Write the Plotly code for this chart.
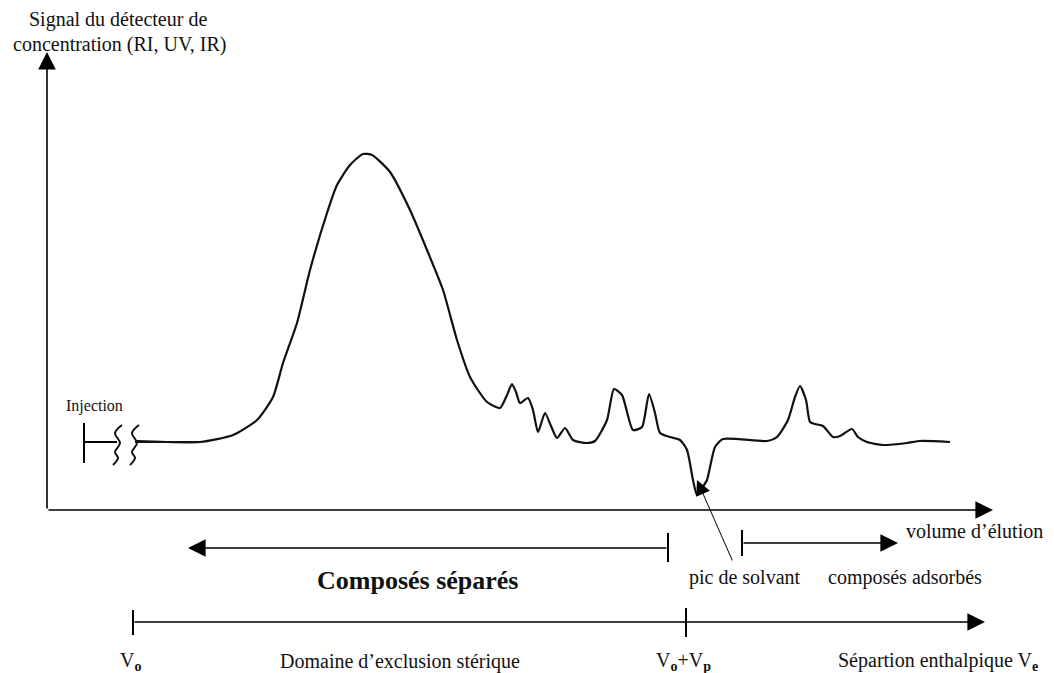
import plotly.graph_objects as go

# chromatogram trace (x = elution position, y = detector signal, screen units)
curve_x = [137, 200, 233, 257, 273, 283, 297, 310, 327, 337, 350, 363, 372, 390, 410,
           427, 443, 457, 470, 487, 500, 507, 512, 516, 520, 528, 533, 538, 545, 551,
           557, 565, 573, 587, 595, 607, 614, 622, 633, 642, 649, 655, 660, 670, 680,
           687, 693, 697, 702, 707, 715, 723, 767, 777, 788, 795, 800, 806, 810, 815,
           823, 833, 840, 852, 858, 867, 883, 907, 920, 950]
curve_y = [441, 442, 435, 420, 397, 363, 323, 270, 213, 185, 165, 154, 155, 172, 210,
           250, 290, 340, 377, 402, 408, 395, 384, 392, 403, 398, 410, 432, 413, 426,
           438, 428, 440, 443, 441, 420, 389, 395, 430, 427, 394, 413, 433, 437, 440,
           450, 480, 495, 488, 480, 447, 439, 441, 437, 420, 397, 386, 400, 422, 424,
           426, 437, 436, 429, 437, 442, 445, 443, 441, 442]

# wavy "break" marks after injection
squig_dx = [0, -7, -2, -7, -4, -9]
squig_y = [425, 433, 443, 452, 458, 465]
squig_x0 = [122, 139]

axis_line = "#000000"
font_serif = "Liberation Serif, Times New Roman, serif"

fig = go.Figure()

fig.add_trace(go.Scatter(x=curve_x, y=curve_y, mode="lines",
                         line=dict(color="#111111", width=2.2, shape="spline", smoothing=0.6),
                         hoverinfo="skip"))

for x0 in squig_x0:
    fig.add_trace(go.Scatter(x=[x0 + d for d in squig_dx], y=squig_y, mode="lines",
                             line=dict(color="#111111", width=2, shape="spline"),
                             hoverinfo="skip"))

# injection bar and stub
fig.add_shape(type="line", x0=84, x1=84, y0=423, y1=463, line=dict(color=axis_line, width=2))
fig.add_shape(type="line", x0=84, x1=117, y0=442, y1=442, line=dict(color=axis_line, width=2))
fig.add_shape(type="line", x0=135, x1=200, y0=442, y1=442, line=dict(color="#111111", width=2.2))


def arrow(x_from, y_from, x_to, y_to, width=1.6, size=2.2):
    fig.add_annotation(x=x_to, y=y_to, ax=x_from, ay=y_from, xref="x", yref="y",
                       axref="x", ayref="y", text="", showarrow=True,
                       arrowhead=2, arrowsize=size, arrowwidth=width, arrowcolor=axis_line)


# main axes
arrow(47, 510, 47, 52)
arrow(47, 510, 993, 510)
# range arrows
arrow(668, 548, 188, 548)
arrow(742, 543, 898, 543)
arrow(133, 622, 985, 622)
arrow(733, 562, 697, 480, width=1, size=3)

# ticks
fig.add_shape(type="line", x0=668, x1=668, y0=533, y1=562, line=dict(color=axis_line, width=2))
fig.add_shape(type="line", x0=742, x1=742, y0=530, y1=556, line=dict(color=axis_line, width=2))
fig.add_shape(type="line", x0=133, x1=133, y0=610, y1=635, line=dict(color=axis_line, width=2))
fig.add_shape(type="line", x0=686, x1=686, y0=608, y1=637, line=dict(color=axis_line, width=2))


def label(x, y, text, size=20, bold=False, xanchor="center"):
    fig.add_annotation(x=x, y=y, xref="x", yref="y", text=f"<b>{text}</b>" if bold else text,
                       showarrow=False, xanchor=xanchor, yanchor="middle",
                       font=dict(family=font_serif, size=size, color="#111111"))


label(118, 19, "Signal du détecteur de")
label(119, 44, "concentration (RI, UV, IR)")
label(94, 406, "Injection", size=16)
label(1045, 531, "volume d’élution", xanchor="right")
label(745, 577, "pic de solvant")
label(905, 577, "composés adsorbés")
label(418, 580, "Composés séparés", size=26, bold=True)
label(130, 661, "V<sub><b>o</b></sub>")
label(400, 661, "Domaine d’exclusion stérique")
label(683, 661, "V<sub><b>o</b></sub>+V<sub><b>p</b></sub>")
label(1040, 661, "Sépartion enthalpique V<sub><b>e</b></sub>", xanchor="right")

# the page body keeps an 8px margin, so the figure is 8px smaller and the ranges start at 8
fig.update_layout(
    width=1046, height=665,
    margin=dict(l=0, r=0, t=0, b=0),
    paper_bgcolor="white", plot_bgcolor="white",
    showlegend=False,
    xaxis=dict(range=[8, 1054], visible=False, fixedrange=True),
    yaxis=dict(range=[673, 8], visible=False, fixedrange=True),
)

fig.write_html("out.html")
